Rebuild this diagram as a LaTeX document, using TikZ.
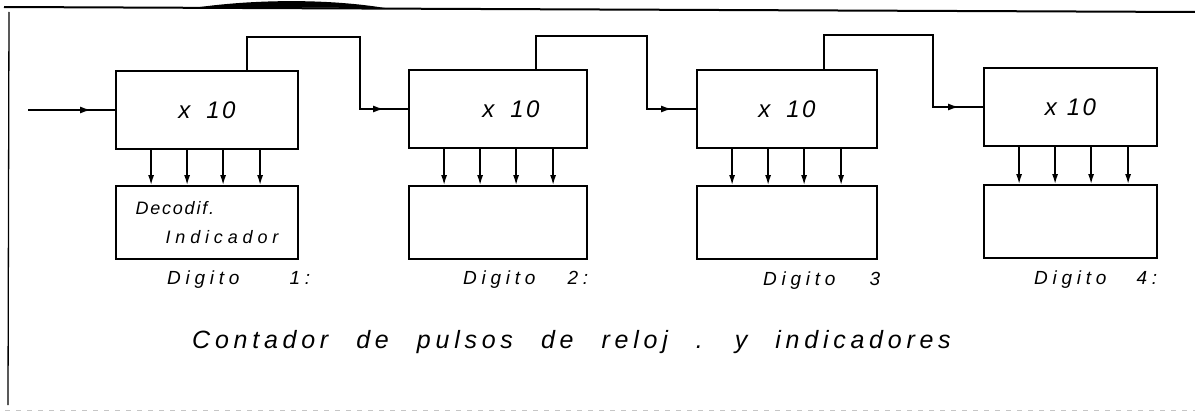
\documentclass[tikz,border=0pt]{standalone}
\usepackage{fontspec}
\newfontfamily\handbox[LetterSpace=10,WordSpace=2]{Liberation Sans}
\newfontfamily\handtag[LetterSpace=25,WordSpace=2]{Liberation Sans}
\newfontfamily\handwide[LetterSpace=19,WordSpace=2.4]{Liberation Sans}
\usetikzlibrary{arrows.meta,decorations.markings}
\begin{document}
\begin{tikzpicture}[x=1pt,y=-1pt,
  wire/.style={line width=1.8pt},
  counter/.style={draw,line width=1.8pt,minimum height=78pt,inner sep=0pt,
    font=\handbox\itshape\fontsize{24}{26}\selectfont},
  display/.style={draw,line width=1.8pt,minimum height=73pt,inner sep=0pt,
    align=left,font=\handbox\itshape\fontsize{18}{29}\selectfont},
  link/.style={wire,postaction={decorate},
    decoration={markings,mark=at position -24pt with {\arrow{Latex[length=11pt,width=7pt]}}}},
  bus/.style={line width=1.5pt,-{Latex[length=10pt,width=6pt]}},
  tag/.style={anchor=base west,inner sep=0pt,font=\handtag\itshape\fontsize{19}{22}\selectfont},
  caption/.style={anchor=base west,inner sep=0pt,font=\handwide\itshape\fontsize{25}{28}\selectfont}
]
\useasboundingbox (0,0) rectangle (1195,412);

% page frame
\draw[line width=2pt] (4,7) -- (1195,12);
\fill (200,7) .. controls (260,-1) and (330,-1) .. (385,8) -- cycle;
\draw[line width=1.3pt] (9,12) -- (8,405);
\draw[gray!45,line width=0.7pt,dash pattern=on 5pt off 6pt] (5,410) -- (1195,410);

% decade counters
\node[counter,minimum width=182pt] (c1) at (207,110) {x\hspace{16pt}10};
\node[counter,minimum width=178pt] (c2) at (498,109) {\hspace*{26pt}x\hspace{16pt}10};
\node[counter,minimum width=180pt] (c3) at (787,109) {x\hspace{16pt}10};
\node[counter,minimum width=173pt] (c4) at (1070.5,107) {x\hspace{10pt}10};

% decoder / display blocks
\node[display,minimum width=182pt] (d1) at (207,222.5)
  {Decodif.\\\hspace*{30pt}{\addfontfeature{LetterSpace=27}Indicador}};
\node[display,minimum width=178pt] (d2) at (498,222.5) {};
\node[display,minimum width=180pt] (d3) at (787,222.5) {};
\node[display,minimum width=173pt] (d4) at (1070.5,221.5) {};

% clock input and carry lines
\coordinate (in) at (28,110);
\coordinate (j1) at (360,37);
\coordinate (j2) at (647,36);
\coordinate (j3) at (933,35);
\draw[link] (in) -- (c1.west);
\draw[link] ([xshift=132pt]c1.north west) |- (j1) |- (c2.west);
\draw[link] ([xshift=128pt]c2.north west) |- (j2) |- (c3.west);
\draw[link] ([xshift=128pt]c3.north west) |- (j3) |- (c4.west);

% BCD outputs
\foreach \k in {1,...,4}
  \foreach \o in {36,72,108,145}
    \draw[bus] ([xshift=\o pt]c\k.south west) -- ([xshift=\o pt]d\k.north west);

% digit labels
\node[tag] (t1) at (167,284) {Digito\hspace{50pt}1:};
\node[tag] (t2) at (463,284) {Digito\hspace{32pt}2:};
\node[tag] (t3) at (763,285) {Digito\hspace{34pt}3};
\node[tag] (t4) at (1034,284) {Digito\hspace{30pt}4:};

\node[caption] (cap) at (192,348) {Contador de pulsos de reloj . y indicadores};
\end{tikzpicture}
\end{document}
